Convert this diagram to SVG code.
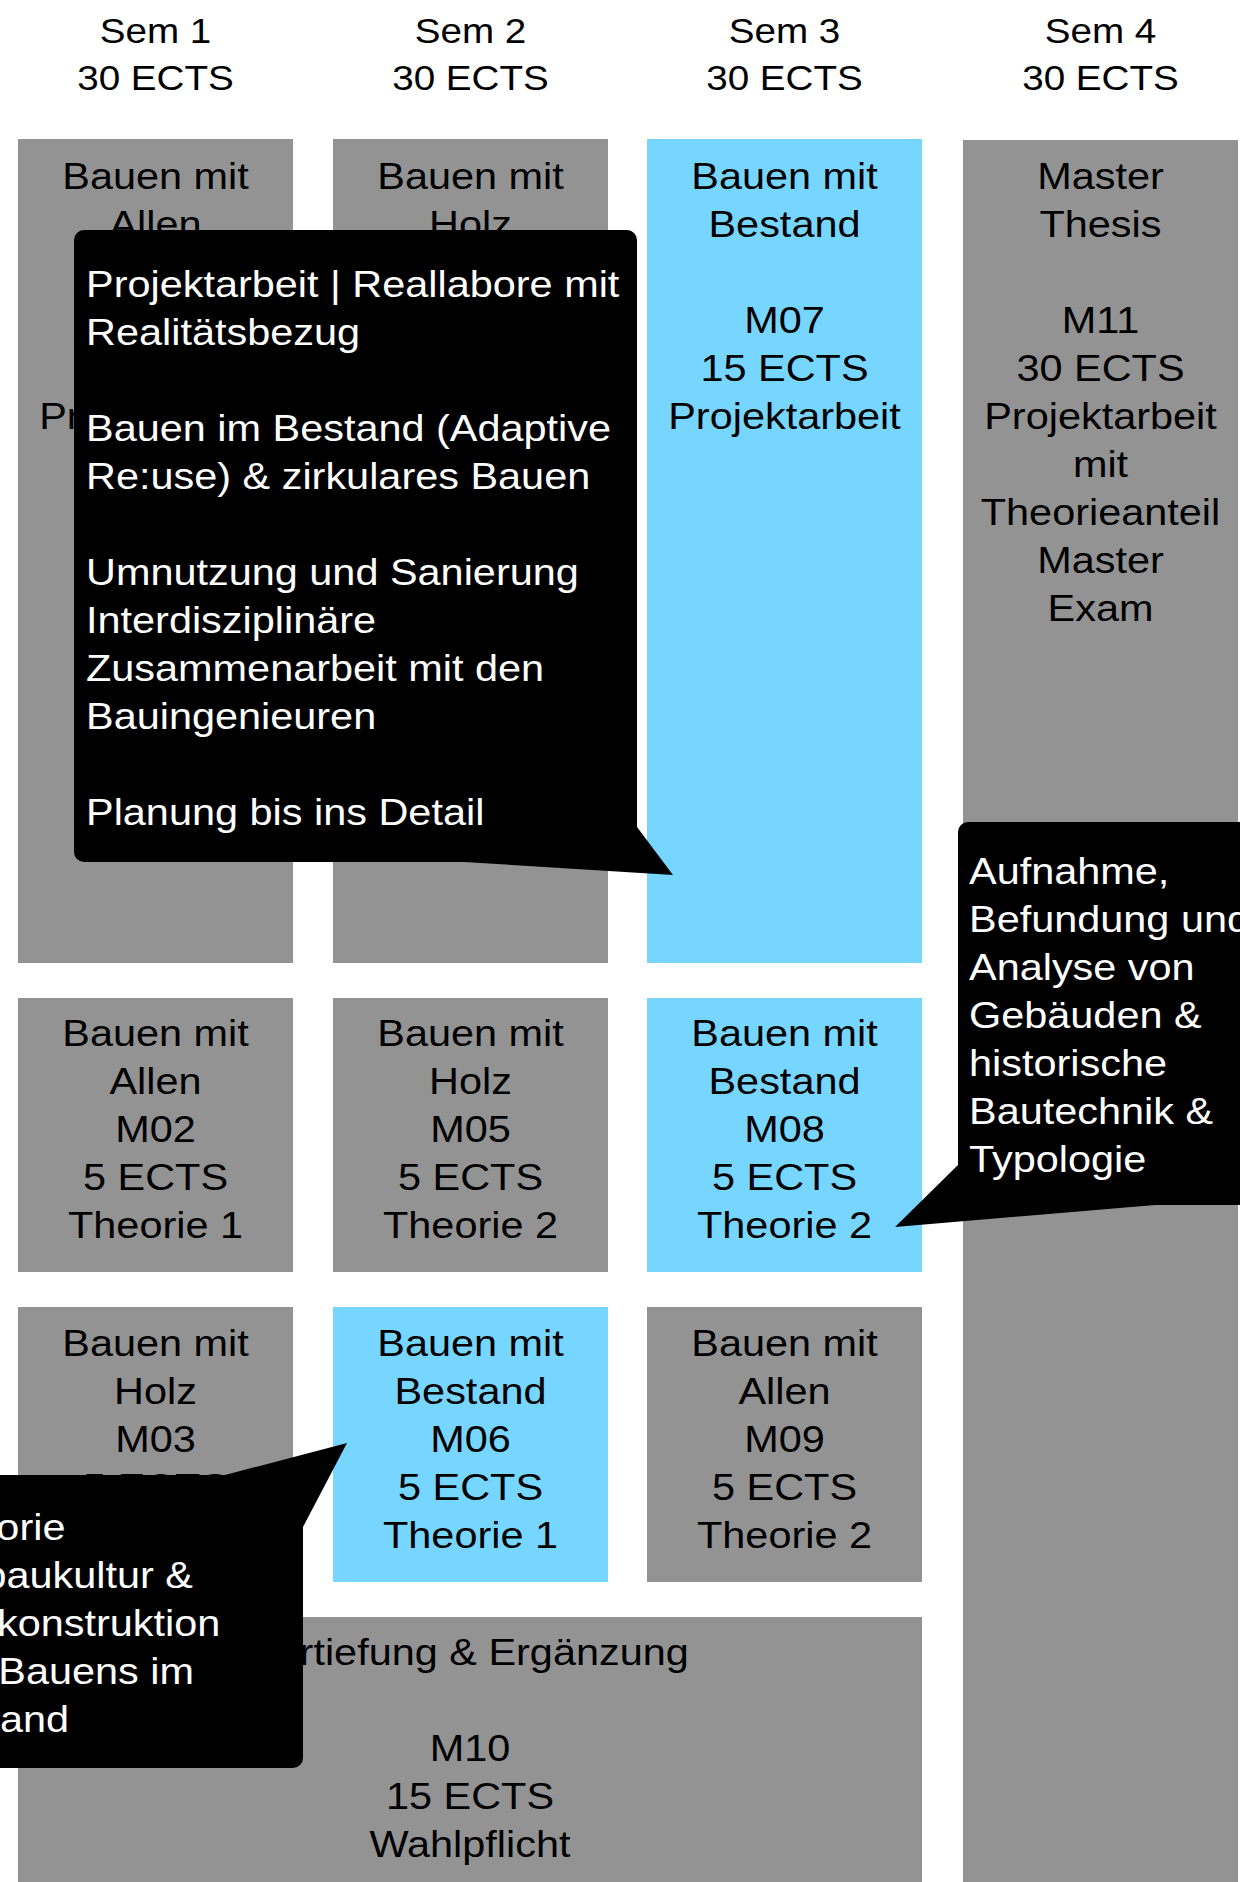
<svg xmlns="http://www.w3.org/2000/svg" width="1240" height="1882" viewBox="0 0 1240 1882">
<style>
  text { font-family: "Liberation Sans", Arial, Helvetica, sans-serif; }
  .hd { font-size: 34.5px; fill: #000; text-anchor: middle; }
  .bx { font-size: 37px; fill: #000; text-anchor: middle; }
  .co { font-size: 37px; fill: #fff; }
  .gray { fill: #939393; }
  .blue { fill: #76D6FF; }
  .callout { fill: #000; }
</style>
<rect x="0" y="0" width="1240" height="1882" fill="#fff"/>

<g id="headers">
  <g transform="translate(155.5 0) scale(1.12 1)"><text class="hd" x="0" y="43">Sem 1</text><text class="hd" x="0" y="90">30 ECTS</text></g>
  <g transform="translate(470.5 0) scale(1.12 1)"><text class="hd" x="0" y="43">Sem 2</text><text class="hd" x="0" y="90">30 ECTS</text></g>
  <g transform="translate(784.5 0) scale(1.12 1)"><text class="hd" x="0" y="43">Sem 3</text><text class="hd" x="0" y="90">30 ECTS</text></g>
  <g transform="translate(1100.5 0) scale(1.12 1)"><text class="hd" x="0" y="43">Sem 4</text><text class="hd" x="0" y="90">30 ECTS</text></g>
</g>

<g id="M01">
  <rect class="gray" x="18" y="139" width="275" height="824"/>
  <g transform="translate(155.5 0) scale(1.12 1)">
    <text class="bx" x="0" y="189">Bauen mit</text>
    <text class="bx" x="0" y="237">Allen</text>
    <text class="bx" x="0" y="429">Projektarbeit</text>
  </g>
</g>
<g id="M04">
  <rect class="gray" x="333" y="139" width="275" height="824"/>
  <g transform="translate(470.5 0) scale(1.12 1)">
    <text class="bx" x="0" y="189">Bauen mit</text>
    <text class="bx" x="0" y="237">Holz</text>
  </g>
</g>
<g id="M07">
  <rect class="blue" x="647" y="139" width="275" height="824"/>
  <g transform="translate(784.5 0) scale(1.12 1)">
    <text class="bx" x="0" y="189">Bauen mit</text>
    <text class="bx" x="0" y="237">Bestand</text>
    <text class="bx" x="0" y="333">M07</text>
    <text class="bx" x="0" y="381">15 ECTS</text>
    <text class="bx" x="0" y="429">Projektarbeit</text>
  </g>
</g>
<g id="M11">
  <rect class="gray" x="963" y="140" width="275" height="1742"/>
  <g transform="translate(1100.5 0) scale(1.12 1)">
    <text class="bx" x="0" y="189">Master</text>
    <text class="bx" x="0" y="237">Thesis</text>
    <text class="bx" x="0" y="333">M11</text>
    <text class="bx" x="0" y="381">30 ECTS</text>
    <text class="bx" x="0" y="429">Projektarbeit</text>
    <text class="bx" x="0" y="477">mit</text>
    <text class="bx" x="0" y="525">Theorieanteil</text>
    <text class="bx" x="0" y="573">Master</text>
    <text class="bx" x="0" y="621">Exam</text>
  </g>
</g>

<g id="M02">
  <rect class="gray" x="18" y="998" width="275" height="274"/>
  <g transform="translate(155.5 0) scale(1.12 1)">
    <text class="bx" x="0" y="1046">Bauen mit</text>
    <text class="bx" x="0" y="1094">Allen</text>
    <text class="bx" x="0" y="1142">M02</text>
    <text class="bx" x="0" y="1190">5 ECTS</text>
    <text class="bx" x="0" y="1238">Theorie 1</text>
  </g>
</g>
<g id="M05">
  <rect class="gray" x="333" y="998" width="275" height="274"/>
  <g transform="translate(470.5 0) scale(1.12 1)">
    <text class="bx" x="0" y="1046">Bauen mit</text>
    <text class="bx" x="0" y="1094">Holz</text>
    <text class="bx" x="0" y="1142">M05</text>
    <text class="bx" x="0" y="1190">5 ECTS</text>
    <text class="bx" x="0" y="1238">Theorie 2</text>
  </g>
</g>
<g id="M08">
  <rect class="blue" x="647" y="998" width="275" height="274"/>
  <g transform="translate(784.5 0) scale(1.12 1)">
    <text class="bx" x="0" y="1046">Bauen mit</text>
    <text class="bx" x="0" y="1094">Bestand</text>
    <text class="bx" x="0" y="1142">M08</text>
    <text class="bx" x="0" y="1190">5 ECTS</text>
    <text class="bx" x="0" y="1238">Theorie 2</text>
  </g>
</g>

<g id="M03">
  <rect class="gray" x="18" y="1307" width="275" height="275"/>
  <g transform="translate(155.5 0) scale(1.12 1)">
    <text class="bx" x="0" y="1356">Bauen mit</text>
    <text class="bx" x="0" y="1404">Holz</text>
    <text class="bx" x="0" y="1452">M03</text>
    <text class="bx" x="0" y="1500">5 ECTS</text>
  </g>
</g>
<g id="M06">
  <rect class="blue" x="333" y="1307" width="275" height="275"/>
  <g transform="translate(470.5 0) scale(1.12 1)">
    <text class="bx" x="0" y="1356">Bauen mit</text>
    <text class="bx" x="0" y="1404">Bestand</text>
    <text class="bx" x="0" y="1452">M06</text>
    <text class="bx" x="0" y="1500">5 ECTS</text>
    <text class="bx" x="0" y="1548">Theorie 1</text>
  </g>
</g>
<g id="M09">
  <rect class="gray" x="647" y="1307" width="275" height="275"/>
  <g transform="translate(784.5 0) scale(1.12 1)">
    <text class="bx" x="0" y="1356">Bauen mit</text>
    <text class="bx" x="0" y="1404">Allen</text>
    <text class="bx" x="0" y="1452">M09</text>
    <text class="bx" x="0" y="1500">5 ECTS</text>
    <text class="bx" x="0" y="1548">Theorie 2</text>
  </g>
</g>

<g id="M10">
  <rect class="gray" x="18" y="1617" width="904" height="265"/>
  <g transform="translate(470 0) scale(1.12 1)">
    <text class="bx" x="0" y="1665">Vertiefung &amp; Ergänzung</text>
    <text class="bx" x="0" y="1761">M10</text>
    <text class="bx" x="0" y="1809">15 ECTS</text>
    <text class="bx" x="0" y="1857">Wahlpflicht</text>
  </g>
</g>

<g id="connectors"></g>

<g id="callout-projekt">
  <path class="callout" d="M84,230 H627 A10,10 0 0 1 637,240 V827 L673,875 L464,862 H84 A10,10 0 0 1 74,852 V240 A10,10 0 0 1 84,230 Z"/>
  <g transform="translate(86 0) scale(1.12 1)">
    <text class="co" x="0" y="297">Projektarbeit | Reallabore mit</text>
    <text class="co" x="0" y="345">Realitätsbezug</text>
    <text class="co" x="0" y="441">Bauen im Bestand (Adaptive</text>
    <text class="co" x="0" y="489">Re:use) &amp; zirkulares Bauen</text>
    <text class="co" x="0" y="585">Umnutzung und Sanierung</text>
    <text class="co" x="0" y="633">Interdisziplinäre</text>
    <text class="co" x="0" y="681">Zusammenarbeit mit den</text>
    <text class="co" x="0" y="729">Bauingenieuren</text>
    <text class="co" x="0" y="825">Planung bis ins Detail</text>
  </g>
</g>

<g id="callout-aufnahme">
  <path class="callout" d="M968,822 H1260 V1205 H1155 L895,1227 L958,1165 V832 A10,10 0 0 1 968,822 Z"/>
  <g transform="translate(969 0) scale(1.12 1)">
    <text class="co" x="0" y="884">Aufnahme,</text>
    <text class="co" x="0" y="932">Befundung und</text>
    <text class="co" x="0" y="980">Analyse von</text>
    <text class="co" x="0" y="1028">Gebäuden &amp;</text>
    <text class="co" x="0" y="1076">historische</text>
    <text class="co" x="0" y="1124">Bautechnik &amp;</text>
    <text class="co" x="0" y="1172">Typologie</text>
  </g>
</g>

<g id="callout-theorie">
  <path class="callout" d="M-20,1475 H225 L347,1443 L303,1527 V1758 A10,10 0 0 1 293,1768 H-20 Z"/>
  <g transform="scale(1.12 1)">
    <text class="co" x="-67" y="1540">Theorie</text>
    <text class="co" x="-72.3" y="1588">Umbaukultur &amp;</text>
    <text class="co" x="-68.5" y="1636">Baukonstruktion</text>
    <text class="co" x="-71.4" y="1684">des Bauens im</text>
    <text class="co" x="-74.1" y="1732">Bestand</text>
  </g>
</g>
</svg>
